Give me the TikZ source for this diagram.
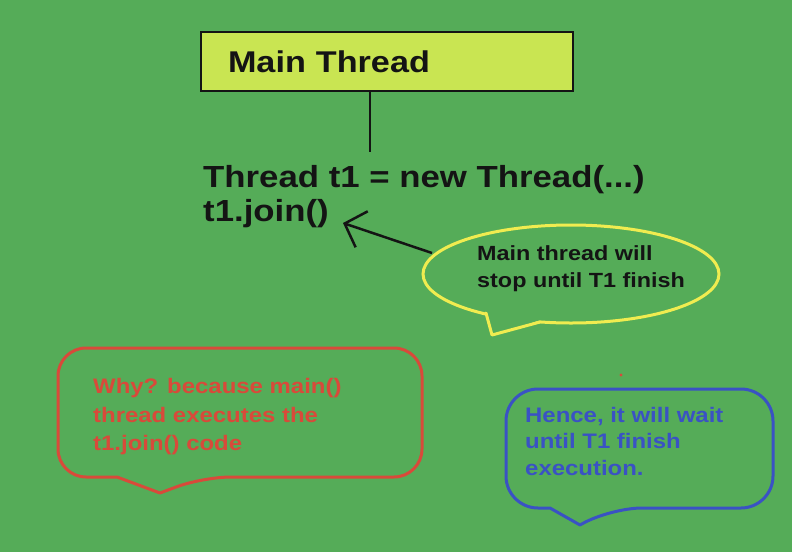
\documentclass[tikz,border=0pt]{standalone}
\usepackage{fontspec}
\setmainfont{Liberation Sans}[FakeStretch=1.14]
\usetikzlibrary{shapes.geometric,arrows.meta}
\definecolor{bg}{RGB}{85,172,88}
\definecolor{boxfill}{RGB}{201,229,82}
\definecolor{bub}{RGB}{240,236,80}
\definecolor{redc}{RGB}{216,74,58}
\definecolor{bluec}{RGB}{58,82,196}
\definecolor{ink}{RGB}{20,20,20}
\tikzset{
  codetxt/.style={anchor=base west, inner sep=0pt, text=ink, font=\fontsize{30.5}{36}\selectfont\bfseries},
  smalltxt/.style={anchor=base west, inner sep=0pt, font=\fontsize{21}{26}\selectfont\bfseries},
  conn/.style={draw=ink, line width=2.5pt},
  calloutred/.style={draw=redc, line width=3pt, line cap=round, line join=round},
  calloutblue/.style={draw=bluec, line width=3pt, line cap=round, line join=round},
  bubline/.style={draw=bub, line width=3pt, line cap=round, line join=round}
}
\begin{document}
\begin{tikzpicture}[x=1pt,y=-1pt]
\fill[bg] (0,0) rectangle (792,552);
\useasboundingbox (0,0) rectangle (792,552);

% main thread box
\node[draw=ink, line width=2.7pt, fill=boxfill, minimum width=372pt, minimum height=59pt,
      text width=318pt, inner xsep=27pt, align=left, text=ink,
      font=\fontsize{30}{36}\selectfont\bfseries] (main) at (387,61.5) {Main Thread};

% code lines
\node[codetxt] (l1) at (203,187) {Thread t1 = new Thread(...)};
\node[codetxt] (l2) at (203,221) {t1.join()};
\coordinate (vend) at (370,152);
\draw[conn] (main.south -| vend) -- (vend);

% yellow speech bubble
\node[ellipse, draw=bub, line width=3pt, minimum width=296pt, minimum height=98pt, inner sep=0pt] (bubble) at (571,274) {};
\fill[bg] (485,310.5) -- (492,336) -- (542,319.5) -- cycle;
\draw[bubline] (486,313) -- (492,335) -- (540,322);
\node[smalltxt, text=ink, font=\fontsize{20.5}{26}\selectfont\bfseries] (b1) at (477,260) {Main thread will};
\node[smalltxt, text=ink, font=\fontsize{20.5}{26}\selectfont\bfseries] (b2) at (477,287) {stop until T1 finish};

% arrow
\coordinate (astart) at (432,253);
\coordinate (atip) at (343,223);
\draw[conn, -{Straight Barb[length=18pt,width=38pt]}] (astart) -- (atip);

% red callout
\draw[calloutred] (160,493) -- (117,477) [rounded corners=28pt] -- (58,477) -- (58,348) -- (422,348) -- (422,477) -- (203,477) [sharp corners] -- (160,493);
\node[smalltxt, text=redc] (r1) at (93,393) {Why? because main()};
\node[smalltxt, text=redc] (r2) at (93,422) {thread executes the};
\node[smalltxt, text=redc] (r3) at (93,450) {t1.join() code};

% blue callout
\draw[calloutblue] (580,525) -- (550,508) [rounded corners=32pt] -- (506,508) -- (506,389) -- (773,389) -- (773,508) -- (610,508) [sharp corners] -- (580,525);
\node[smalltxt, text=bluec] (h1) at (525,422) {Hence, it will wait};
\node[smalltxt, text=bluec] (h2) at (525,448) {until T1 finish};
\node[smalltxt, text=bluec] (h3) at (525,475) {execution.};

% small red dot
\fill[redc] (621,375) circle (1.6pt);
\end{tikzpicture}
\end{document}
